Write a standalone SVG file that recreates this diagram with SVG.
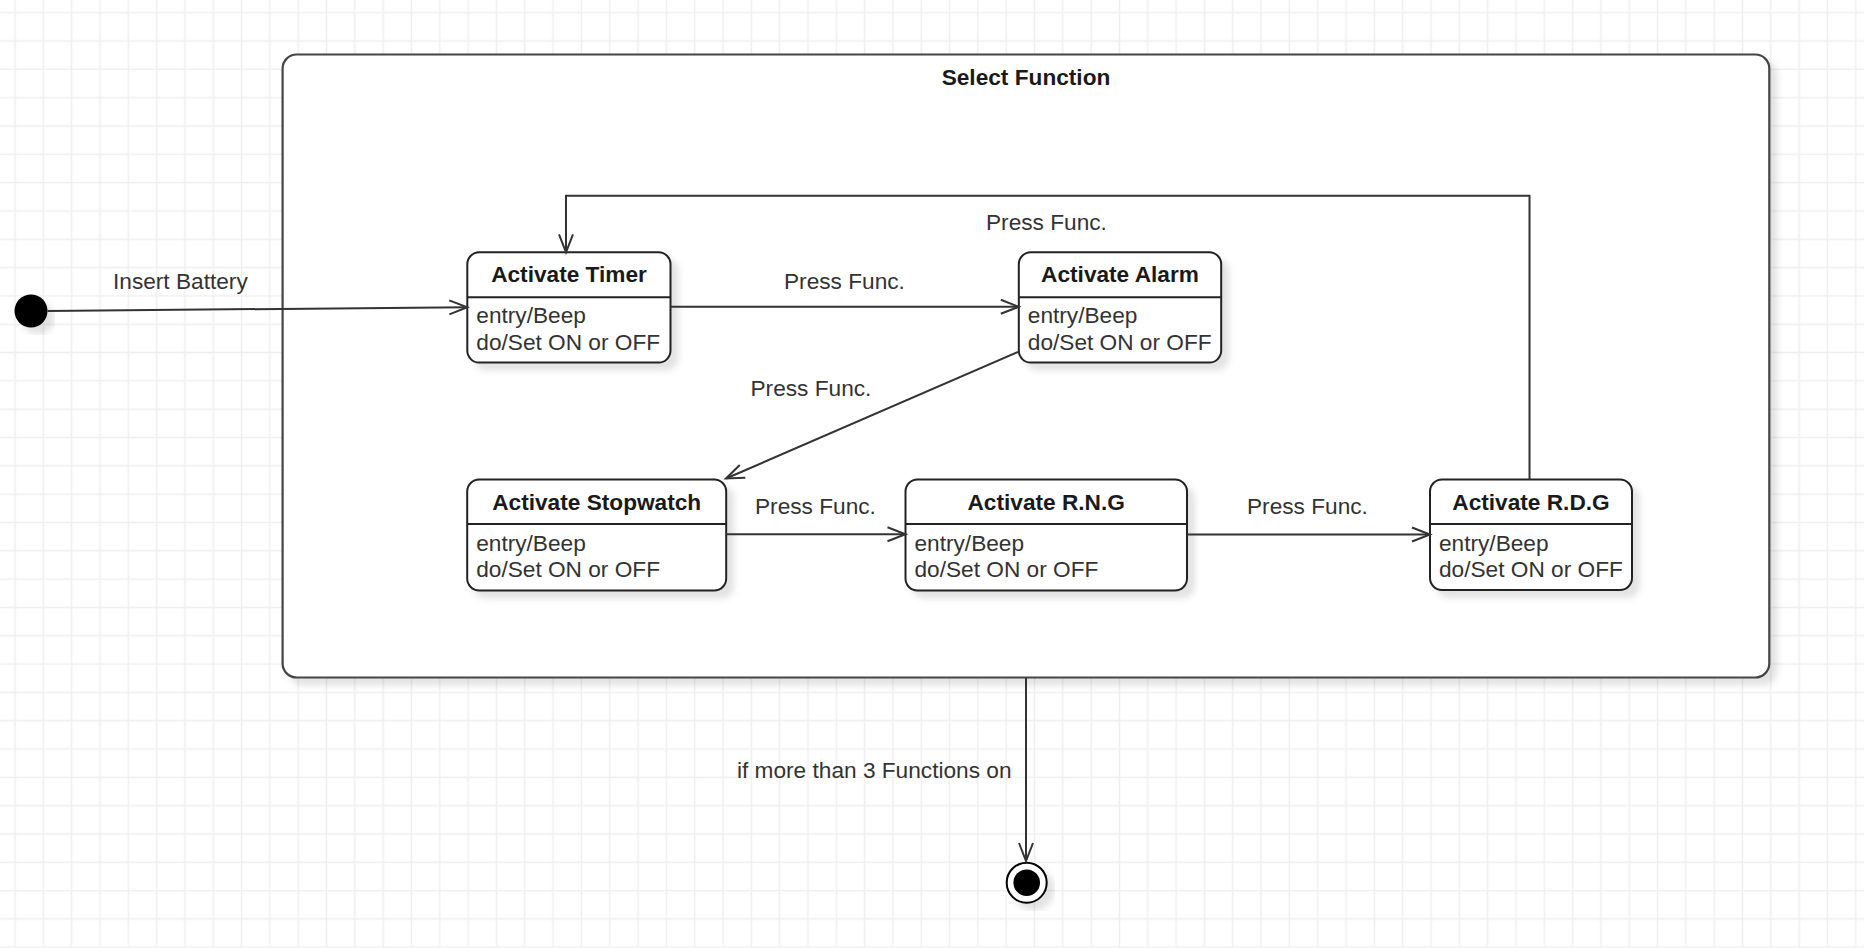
<svg xmlns="http://www.w3.org/2000/svg" width="1864" height="948" viewBox="0 0 1864 948">
<defs>
<pattern id="grid" patternUnits="userSpaceOnUse" x="0.84" y="-1.46" width="28.32" height="28.32">
<path d="M14.16 0 V28.32 M0 14.16 H28.32" stroke="#efefef" stroke-width="1.5" fill="none"/>
</pattern>
<filter id="sh" x="-0.1" y="-0.1" width="1.3" height="1.3">
<feGaussianBlur in="SourceAlpha" stdDeviation="3"/>
<feOffset dx="7" dy="7" result="b"/>
<feFlood flood-color="#000" flood-opacity="0.11"/>
<feComposite in2="b" operator="in" result="s"/>
<feMerge><feMergeNode in="s"/><feMergeNode in="SourceGraphic"/></feMerge>
</filter>
<marker id="arr" markerUnits="userSpaceOnUse" markerWidth="24" markerHeight="20" viewBox="-21 -10 24 20" refX="0" refY="0" orient="auto">
<path d="M-18,-7 L0,0 L-18,7" fill="none" stroke="#333" stroke-width="2"/>
</marker>
</defs>
<style>
.box{fill:#fff;stroke:#222;stroke-width:2}
.div{stroke:#222;stroke-width:2}
.t{font-family:"Liberation Sans",Arial,sans-serif;font-size:22.67px;font-weight:bold;fill:#1a1a1a;text-anchor:middle}
.b{font-family:"Liberation Sans",Arial,sans-serif;font-size:22.67px;fill:#333}
.lbl{font-family:"Liberation Sans",Arial,sans-serif;font-size:22.67px;fill:#333}
.c{fill:none;stroke:#333;stroke-width:2}
</style>
<rect width="1864" height="948" fill="#fff"/>
<rect width="1864" height="948" fill="url(#grid)"/>

<g id="select-function">
<rect x="282.6" y="54.5" width="1486.7" height="623" rx="14" ry="14" fill="#fff" stroke="#444" stroke-width="2.2" filter="url(#sh)"/>
<text class="t" x="1026" y="84.5">Select Function</text>
</g>

<g id="initial">
<circle cx="31" cy="311" r="16.5" fill="#000" filter="url(#sh)"/>
</g>

<g id="timer">
<rect class="box" x="467.3" y="252.3" width="203.2" height="110.3" rx="12" ry="12" filter="url(#sh)"/>
<line class="div" x1="467.3" y1="297.3" x2="670.5" y2="297.3"/>
<text class="t" x="569" y="282.3">Activate Timer</text>
<text class="b" x="476.3" y="323.3">entry/Beep</text>
<text class="b" x="476.3" y="350">do/Set ON or OFF</text>
</g>

<g id="alarm">
<rect class="box" x="1018.8" y="252.3" width="202.4" height="110.3" rx="12" ry="12" filter="url(#sh)"/>
<line class="div" x1="1018.8" y1="297.3" x2="1221.2" y2="297.3"/>
<text class="t" x="1120" y="282.3">Activate Alarm</text>
<text class="b" x="1027.8" y="323.3">entry/Beep</text>
<text class="b" x="1027.8" y="350">do/Set ON or OFF</text>
</g>

<g id="stopwatch">
<rect class="box" x="467.2" y="479.5" width="259" height="111" rx="12" ry="12" filter="url(#sh)"/>
<line class="div" x1="467.2" y1="524" x2="726.2" y2="524"/>
<text class="t" x="596.7" y="509.5">Activate Stopwatch</text>
<text class="b" x="476.2" y="550.5">entry/Beep</text>
<text class="b" x="476.2" y="577.2">do/Set ON or OFF</text>
</g>

<g id="rng">
<rect class="box" x="905.5" y="479.5" width="281.5" height="111" rx="12" ry="12" filter="url(#sh)"/>
<line class="div" x1="905.5" y1="524" x2="1187" y2="524"/>
<text class="t" x="1046.2" y="509.5">Activate R.N.G</text>
<text class="b" x="914.5" y="550.5">entry/Beep</text>
<text class="b" x="914.5" y="577.2">do/Set ON or OFF</text>
</g>

<g id="rdg">
<rect class="box" x="1430" y="479.5" width="202" height="110.5" rx="12" ry="12" filter="url(#sh)"/>
<line class="div" x1="1430" y1="524" x2="1632" y2="524"/>
<text class="t" x="1531" y="509.5">Activate R.D.G</text>
<text class="b" x="1439" y="550.5">entry/Beep</text>
<text class="b" x="1439" y="577.2">do/Set ON or OFF</text>
</g>

<g id="final">
<circle cx="1026.7" cy="882.7" r="20" fill="#fff" stroke="#000" stroke-width="2" filter="url(#sh)"/>
<circle cx="1026.7" cy="882.7" r="13.3" fill="#000"/>
</g>

<g id="connectors">
<path class="c" d="M47.5,311 L467.3,307.2" marker-end="url(#arr)"/>
<path class="c" d="M670.5,306.8 L1018.8,306.8" marker-end="url(#arr)"/>
<path class="c" d="M1018,352 L726,478.5" marker-end="url(#arr)"/>
<path class="c" d="M726.2,534.2 L905.5,534.2" marker-end="url(#arr)"/>
<path class="c" d="M1187,534.5 L1430,534.5" marker-end="url(#arr)"/>
<path class="c" d="M1529.5,479.5 V195.7 H566 V252.3" marker-end="url(#arr)"/>
<path class="c" d="M1026,677.5 V861" marker-end="url(#arr)"/>
<text class="lbl" x="113" y="288.5">Insert Battery</text>
<text class="lbl" x="986" y="229.5">Press Func.</text>
<text class="lbl" x="784" y="288.5">Press Func.</text>
<text class="lbl" x="750.5" y="395.5">Press Func.</text>
<text class="lbl" x="755" y="514">Press Func.</text>
<text class="lbl" x="1247" y="514">Press Func.</text>
<text class="lbl" x="1011.5" y="777.7" text-anchor="end">if more than 3 Functions on</text>
</g>
</svg>
